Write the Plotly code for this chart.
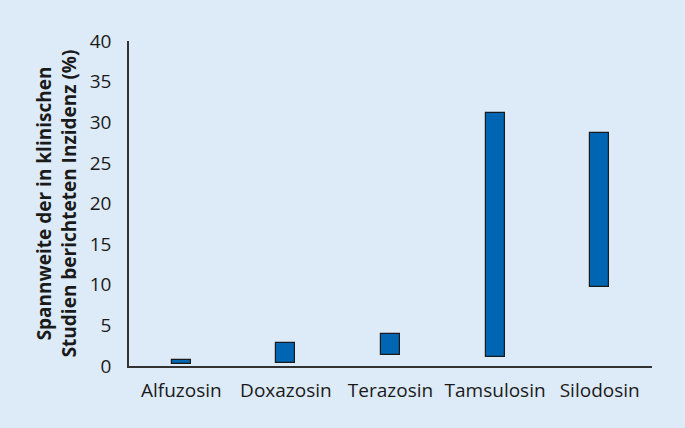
import plotly.graph_objects as go

# Range of reported incidence (%) per drug
drugs = ["Alfuzosin", "Doxazosin", "Terazosin", "Tamsulosin", "Silodosin"]
low_values = [0.3, 0.4, 1.3, 1.1, 9.7]
high_values = [0.7, 2.8, 3.9, 31.1, 28.7]

y_ticks = [0, 5, 10, 15, 20, 25, 30, 35, 40]

bg_color = "#DDEAF7"
bar_color = "#0066B3"

fig = go.Figure()

fig.add_trace(go.Bar(
    x=drugs,
    y=[h - l for h, l in zip(high_values, low_values)],
    base=low_values,
    width=0.18,
    marker=dict(color=bar_color, line=dict(color="#1a1a1a", width=1.2)),
    showlegend=False,
))

fig.update_layout(
    width=685,
    height=428,
    paper_bgcolor=bg_color,
    plot_bgcolor=bg_color,
    margin=dict(l=129, r=33, t=41, b=62),
    font=dict(family="Open Sans, Liberation Sans, sans-serif", size=19, color="#1a1a1a"),
    bargap=0,
)

fig.update_xaxes(
    type="category",
    range=[-0.5, 4.5],
    showline=True,
    linecolor="#333333",
    linewidth=1.5,
    showgrid=False,
    ticks="",
    ticklabelstandoff=6,
    tickfont=dict(size=19),
)

fig.update_yaxes(
    range=[0, 40],
    tickvals=y_ticks,
    showline=True,
    linecolor="#333333",
    linewidth=1.5,
    showgrid=False,
    zeroline=False,
    ticks="",
    ticklabelstandoff=12,
    tickfont=dict(size=19),
    title=dict(
        text="<b>Spannweite der in klinischen<br>Studien berichteten Inzidenz (%)</b>",
        font=dict(size=19),
        standoff=8,
    ),
)

fig.write_html(
    "out.html",
    config={"displayModeBar": False},
    post_script="document.body.style.margin='0';document.body.style.overflow='hidden';",
)
